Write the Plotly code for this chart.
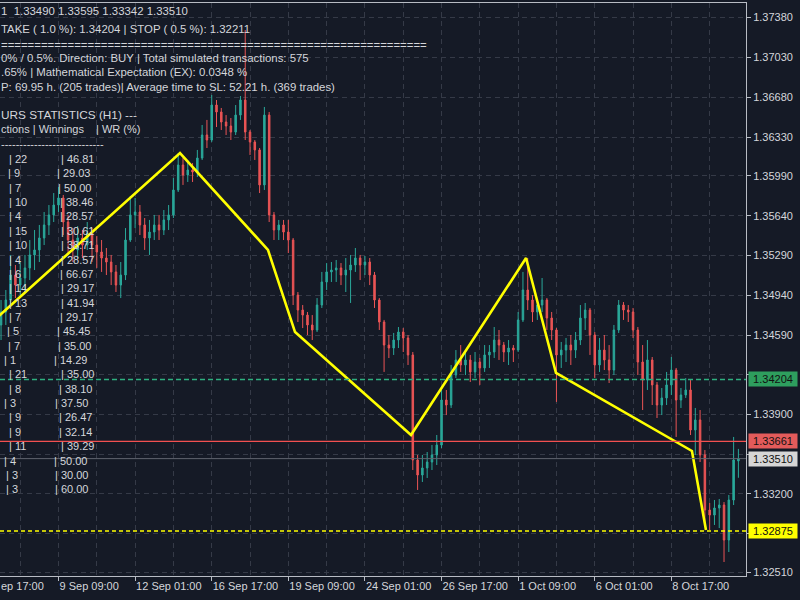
import plotly.graph_objects as go

# ---------------- data ----------------
# one candle per 4 H1 bars; bar index 0 = "9 Sep 09:00"
first_bar = -48
bars_per_candle = 4

open_ = [1.34682, 1.34796, 1.34901, 1.35120, 1.35032, 1.35094, 1.35182, 1.35296, 1.35340, 1.35445,
         1.35559, 1.35647, 1.35734, 1.35796, 1.35585, 1.35427, 1.35340, 1.35445, 1.35383, 1.35488,
         1.35383, 1.35322, 1.35269, 1.35234, 1.35147, 1.35032, 1.35120, 1.35427, 1.35647, 1.35673,
         1.35559, 1.35445, 1.35497, 1.35559, 1.35515, 1.35603, 1.35647, 1.35866, 1.36085, 1.35997,
         1.36041, 1.36024, 1.36146, 1.36348, 1.36304, 1.36611, 1.36550, 1.36462, 1.36427, 1.36374,
         1.36523, 1.36655, 1.36374, 1.36287, 1.36217, 1.35910, 1.36523, 1.35647, 1.35515, 1.35559,
         1.35497, 1.35427, 1.34944, 1.34813, 1.34769, 1.34682, 1.34638, 1.34857, 1.35059, 1.35147,
         1.35164, 1.35182, 1.35120, 1.35164, 1.35208, 1.35269, 1.35208, 1.35234, 1.35120, 1.34901,
         1.34708, 1.34506, 1.34480, 1.34550, 1.34620, 1.34568, 1.34419, 1.33498, 1.33366, 1.33428,
         1.33480, 1.33542, 1.33629, 1.34024, 1.33980, 1.34243, 1.34375, 1.34331, 1.34375, 1.34270,
         1.34357, 1.34305, 1.34419, 1.34445, 1.34550, 1.34506, 1.34445, 1.34480, 1.34462, 1.34726,
         1.34989, 1.34901, 1.34796, 1.34857, 1.34901, 1.34743, 1.34638, 1.34419, 1.34462, 1.34506,
         1.34462, 1.34550, 1.34743, 1.34813, 1.34594, 1.34331, 1.34462, 1.34375, 1.34287, 1.34638,
         1.34857, 1.34813, 1.34796, 1.34638, 1.34357, 1.34199, 1.34375, 1.34156, 1.33980, 1.34042,
         1.34156, 1.34287, 1.34024, 1.34068, 1.34112, 1.33761, 1.33849, 1.33542, 1.33059, 1.33015,
         1.33077, 1.33103, 1.32796, 1.33147, 1.33490]

high = [1.34901, 1.34989, 1.35296, 1.35208, 1.35234, 1.35296, 1.35427, 1.35515, 1.35559, 1.35673,
        1.35734, 1.35839, 1.35892, 1.35822, 1.35647, 1.35532, 1.35550, 1.35515, 1.35585, 1.35532,
        1.35462, 1.35427, 1.35357, 1.35296, 1.35208, 1.35234, 1.35532, 1.35813, 1.35796, 1.35734,
        1.35620, 1.35603, 1.35647, 1.35647, 1.35690, 1.35734, 1.35971, 1.36190, 1.36146, 1.36129,
        1.36102, 1.36217, 1.36436, 1.36480, 1.36699, 1.36655, 1.36585, 1.36523, 1.36497, 1.36611,
        1.36690, 1.37269, 1.36392, 1.36304, 1.36234, 1.36594, 1.36550, 1.35673, 1.35603, 1.35603,
        1.35603, 1.35445, 1.34971, 1.34857, 1.34796, 1.34769, 1.34918, 1.35147, 1.35225, 1.35234,
        1.35252, 1.35225, 1.35269, 1.35296, 1.35357, 1.35296, 1.35287, 1.35269, 1.35147, 1.34918,
        1.34726, 1.34594, 1.34612, 1.34664, 1.34655, 1.34594, 1.34445, 1.33542, 1.33542, 1.33568,
        1.33629, 1.33717, 1.34112, 1.34112, 1.34331, 1.34462, 1.34506, 1.34445, 1.34419, 1.34445,
        1.34392, 1.34506, 1.34506, 1.34664, 1.34638, 1.34533, 1.34550, 1.34506, 1.34796, 1.35147,
        1.35269, 1.34944, 1.34901, 1.35094, 1.34918, 1.34796, 1.34655, 1.34533, 1.34568, 1.34594,
        1.34620, 1.34857, 1.34875, 1.34831, 1.34620, 1.34568, 1.34594, 1.34506, 1.34682, 1.34901,
        1.34883, 1.34857, 1.34831, 1.34664, 1.34506, 1.34550, 1.34401, 1.34182, 1.34129, 1.34270,
        1.34401, 1.34305, 1.34129, 1.34217, 1.34199, 1.33954, 1.33936, 1.33585, 1.33121, 1.33147,
        1.33156, 1.33129, 1.33191, 1.33700, 1.33595]

low = [1.34550, 1.34682, 1.34857, 1.34918, 1.34944, 1.34989, 1.35076, 1.35164, 1.35234, 1.35383,
       1.35471, 1.35585, 1.35673, 1.35471, 1.35296, 1.35234, 1.35269, 1.35269, 1.35340, 1.35234,
       1.35182, 1.35147, 1.35120, 1.35032, 1.34971, 1.34918, 1.35076, 1.35410, 1.35532, 1.35471,
       1.35340, 1.35296, 1.35427, 1.35427, 1.35471, 1.35515, 1.35620, 1.35848, 1.35910, 1.35936,
       1.35936, 1.35980, 1.36129, 1.36234, 1.36287, 1.36418, 1.36392, 1.36348, 1.36304, 1.36348,
       1.36480, 1.36304, 1.36173, 1.36129, 1.35839, 1.35866, 1.35585, 1.35427, 1.35427, 1.35427,
       1.35313, 1.34857, 1.34708, 1.34655, 1.34594, 1.34550, 1.34620, 1.34831, 1.34989, 1.35059,
       1.35059, 1.35032, 1.34971, 1.34875, 1.35147, 1.35076, 1.35120, 1.35032, 1.34831, 1.34638,
       1.34270, 1.34392, 1.34419, 1.34480, 1.34445, 1.34331, 1.33410, 1.33235, 1.33305, 1.33340,
       1.33410, 1.33454, 1.33603, 1.33892, 1.33954, 1.34217, 1.34270, 1.34243, 1.34182, 1.34217,
       1.34156, 1.34270, 1.34305, 1.34392, 1.34375, 1.34357, 1.34331, 1.34357, 1.34445, 1.34708,
       1.34813, 1.34708, 1.34726, 1.34796, 1.34638, 1.34550, 1.34007, 1.34305, 1.34357, 1.34331,
       1.34392, 1.34506, 1.34638, 1.34419, 1.34217, 1.34270, 1.34287, 1.34173, 1.34243, 1.34612,
       1.34726, 1.34708, 1.34568, 1.34243, 1.33936, 1.34112, 1.33980, 1.33866, 1.33892, 1.33980,
       1.34068, 1.33700, 1.33954, 1.34042, 1.33717, 1.33542, 1.33480, 1.32910, 1.32884, 1.32928,
       1.32901, 1.32603, 1.32691, 1.33103, 1.33342]

close = [1.34796, 1.34901, 1.35120, 1.35032, 1.35094, 1.35182, 1.35296, 1.35340, 1.35445, 1.35559,
         1.35647, 1.35734, 1.35796, 1.35585, 1.35427, 1.35340, 1.35445, 1.35383, 1.35488, 1.35383,
         1.35322, 1.35269, 1.35234, 1.35147, 1.35032, 1.35120, 1.35427, 1.35647, 1.35673, 1.35559,
         1.35445, 1.35497, 1.35559, 1.35515, 1.35603, 1.35647, 1.35866, 1.36085, 1.35997, 1.36041,
         1.36024, 1.36146, 1.36348, 1.36304, 1.36611, 1.36550, 1.36462, 1.36427, 1.36374, 1.36523,
         1.36655, 1.36374, 1.36287, 1.36217, 1.35910, 1.36523, 1.35647, 1.35515, 1.35559, 1.35497,
         1.35427, 1.34944, 1.34813, 1.34769, 1.34682, 1.34638, 1.34857, 1.35059, 1.35147, 1.35164,
         1.35182, 1.35120, 1.35164, 1.35208, 1.35269, 1.35208, 1.35234, 1.35120, 1.34901, 1.34708,
         1.34506, 1.34480, 1.34550, 1.34620, 1.34568, 1.34419, 1.33498, 1.33366, 1.33428, 1.33480,
         1.33542, 1.33629, 1.34024, 1.33980, 1.34243, 1.34375, 1.34331, 1.34375, 1.34270, 1.34357,
         1.34305, 1.34419, 1.34445, 1.34550, 1.34506, 1.34445, 1.34480, 1.34462, 1.34726, 1.34989,
         1.34901, 1.34796, 1.34857, 1.34901, 1.34743, 1.34638, 1.34419, 1.34462, 1.34506, 1.34462,
         1.34550, 1.34743, 1.34813, 1.34594, 1.34331, 1.34462, 1.34375, 1.34287, 1.34638, 1.34857,
         1.34813, 1.34796, 1.34638, 1.34357, 1.34199, 1.34375, 1.34156, 1.33980, 1.34042, 1.34156,
         1.34287, 1.34024, 1.34068, 1.34112, 1.33761, 1.33849, 1.33542, 1.33059, 1.33015, 1.33077,
         1.33103, 1.32796, 1.33147, 1.33498, 1.33510]

zigzag_bar = [-50, 101.5, 175.0, 197.6, 294.5, 390.6, 415.6, 529.2, 540.9]
zigzag_price = [1.34759, 1.36190, 1.35340, 1.34620, 1.33717, 1.35269, 1.34261, 1.33577, 1.32884]

take_level = 1.34204
red_level = 1.33661
bid_level = 1.33510
yellow_level = 1.32875

date_tick_bars = [0, 64, 128, 192, 256, 320, 384, 448, 512]
date_labels = ["9 Sep 09:00", "12 Sep 01:00", "16 Sep 17:00", "19 Sep 09:00", "24 Sep 01:00",
               "26 Sep 17:00", "1 Oct 09:00", "6 Oct 01:00", "8 Oct 17:00"]
minor_grid_bars = [-32, 32, 96, 160, 224, 288, 352, 416, 480, 544]

price_ticks = [1.37380, 1.37030, 1.36680, 1.36330, 1.35990, 1.35640, 1.35290, 1.34940,
               1.34590, 1.34250, 1.33900, 1.33550, 1.33200, 1.32850, 1.32510]
price_tick_hidden = [1.34250, 1.33550, 1.32850]

header_lines = [
    "1  1.33490 1.33595 1.33342 1.33510",
    "TAKE ( 1.0 %): 1.34204 | STOP ( 0.5 %): 1.32211",
    "=" * 64,
    "0% / 0.5%. Direction: BUY | Total simulated transactions: 575",
    ".65% | Mathematical Expectation (EX): 0.0348 %",
    "P: 69.95 h. (205 trades)| Average time to SL: 52.21 h. (369 trades)",
]
stats_title = "URS STATISTICS (H1) ---"
stats_cols_a = "ctions | Winnings"
stats_cols_b = "| WR (%)"
winnings = [22, 9, 7, 10, 4, 15, 10, 4, 6, 14, 13, 7, 5, 7, 1, 21, 8, 3, 9, 9, 11, 4, 3, 3]
win_rate = [46.81, 29.03, 50.00, 38.46, 28.57, 30.61, 38.71, 28.57, 66.67, 29.17, 41.94, 29.17,
            45.45, 35.00, 14.29, 35.00, 38.10, 37.50, 26.47, 32.14, 39.29, 50.00, 30.00, 60.00]

# ---------------- layout helpers (pixels) ----------------
PL, PT, PW, PH = 0, 3, 746, 573
def xp(px):
    return (px - PL) / PW
def yp(py):
    return (PT + PH - py) / PH

header_y = [11, 29, 45, 58, 72, 87]
row_x1 = [8, 7, 8, 8, 8, 8, 8, 8, 8, 8, 8, 8, 6, 7, 3, 8, 8, 3, 8, 8, 8, 3, 5, 5]
row_x2 = [60, 56, 57, 59, 59, 60, 60, 60, 59, 60, 60, 59, 56, 57, 53, 60, 58, 54, 58, 58, 60, 53, 54, 54]

BG = "#151a26"
GRID = "#353a47"
AX = "#b8bcc4"
TXT = "#d4d6db"
UP = "#2aa89a"
DN = "#ea5455"
FONT = "Liberation Sans, Arial, sans-serif"

x_bars = [first_bar + bars_per_candle * i for i in range(len(close))]

fig = go.Figure()
fig.add_trace(go.Candlestick(
    x=x_bars, open=open_, high=high, low=low, close=close,
    increasing=dict(line=dict(color=UP, width=1), fillcolor=UP),
    decreasing=dict(line=dict(color=DN, width=1), fillcolor=DN),
    whiskerwidth=0,
    hoverinfo="skip", showlegend=False,
))
fig.add_trace(go.Scatter(
    x=zigzag_bar, y=zigzag_price, mode="lines",
    line=dict(color="#ffff00", width=2.6), hoverinfo="skip", showlegend=False,
))

# horizontal levels
fig.add_shape(type="line", xref="paper", yref="y", x0=0, x1=1, y0=take_level, y1=take_level,
              line=dict(color="#2fb07f", width=1.3, dash="5px,3px"))
fig.add_shape(type="line", xref="paper", yref="y", x0=0, x1=1, y0=red_level, y1=red_level,
              line=dict(color="#f25050", width=1.4))
fig.add_shape(type="line", xref="paper", yref="y", x0=0, x1=1, y0=bid_level, y1=bid_level,
              line=dict(color="#60656f", width=1))
fig.add_shape(type="line", xref="paper", yref="y", x0=0, x1=1, y0=yellow_level, y1=yellow_level,
              line=dict(color="#ffff00", width=1.3, dash="4px,3px"))

ann = []
def text(s, x, y, size=11, color=TXT):
    ann.append(dict(text=s, xref="paper", yref="paper", x=xp(x), y=yp(y), xanchor="left",
                    yanchor="middle", showarrow=False, borderpad=0,
                    font=dict(family=FONT, size=size, color=color)))

for s, y in zip(header_lines, header_y):
    text(s, 0, y, size=11.4)
text(stats_title, 0, 115, size=11.8)
text(stats_cols_a, 0, 129)
text(stats_cols_b, 95, 129)
text("-" * 28, 0, 144)
for i, (w, r) in enumerate(zip(winnings, win_rate)):
    y = 159 + 14.36 * i
    text(f"| {w}", row_x1[i], y)
    text(f"| {r:.2f}", row_x2[i], y)

text("ep 17:00", 0, 586, color=TXT)

# price labels on the right axis
for lvl, bg in [(take_level, "#2e9e5e"), (red_level, "#e35b5b"),
                (bid_level, "#d6d6d6"), (yellow_level, "#ffff00")]:
    ann.append(dict(text=f"{lvl:.5f}", xref="paper", yref="y", x=xp(748), y=lvl,
                    xanchor="left", yanchor="middle", showarrow=False, bgcolor=bg,
                    width=48, height=14, borderpad=0, align="center",
                    font=dict(family=FONT, size=11, color="#111111")))

tick_text = ["" if v in price_tick_hidden else f"{v:.5f}" for v in price_ticks]

fig.update_layout(
    width=800, height=600,
    margin=dict(l=PL, r=800 - PL - PW, t=PT, b=600 - PT - PH),
    paper_bgcolor=BG, plot_bgcolor=BG,
    showlegend=False,
    boxgap=0.55,
    font=dict(family=FONT, size=11, color=TXT),
    annotations=ann,
    xaxis=dict(
        range=[(0 - 58.5) / 1.197, (746 - 58.5) / 1.197],
        rangeslider=dict(visible=False),
        tickmode="array", tickvals=date_tick_bars, ticktext=date_labels,
        ticks="outside", ticklen=4, tickcolor=AX,
        ticklabelposition="outside right",
        showline=True, linecolor=AX, linewidth=1, mirror=True,
        showgrid=True, gridcolor=GRID, griddash="5px,4px", gridwidth=1,
        minor=dict(tickvals=minor_grid_bars, showgrid=True, gridcolor=GRID,
                   griddash="5px,4px", ticks=""),
        zeroline=False,
        tickfont=dict(family=FONT, size=11, color=TXT),
    ),
    yaxis=dict(
        side="right",
        range=[1.37532 - 576 * 0.0000877, 1.37532 - 3 * 0.0000877],
        tickmode="array", tickvals=price_ticks, ticktext=tick_text,
        ticks="outside", ticklen=4, tickcolor=AX,
        showline=True, linecolor=AX, linewidth=1, mirror=True,
        showgrid=True, gridcolor=GRID, griddash="5px,4px", gridwidth=1,
        zeroline=False,
        tickfont=dict(family=FONT, size=11, color=TXT),
    ),
)

fig.write_html("out.html")
